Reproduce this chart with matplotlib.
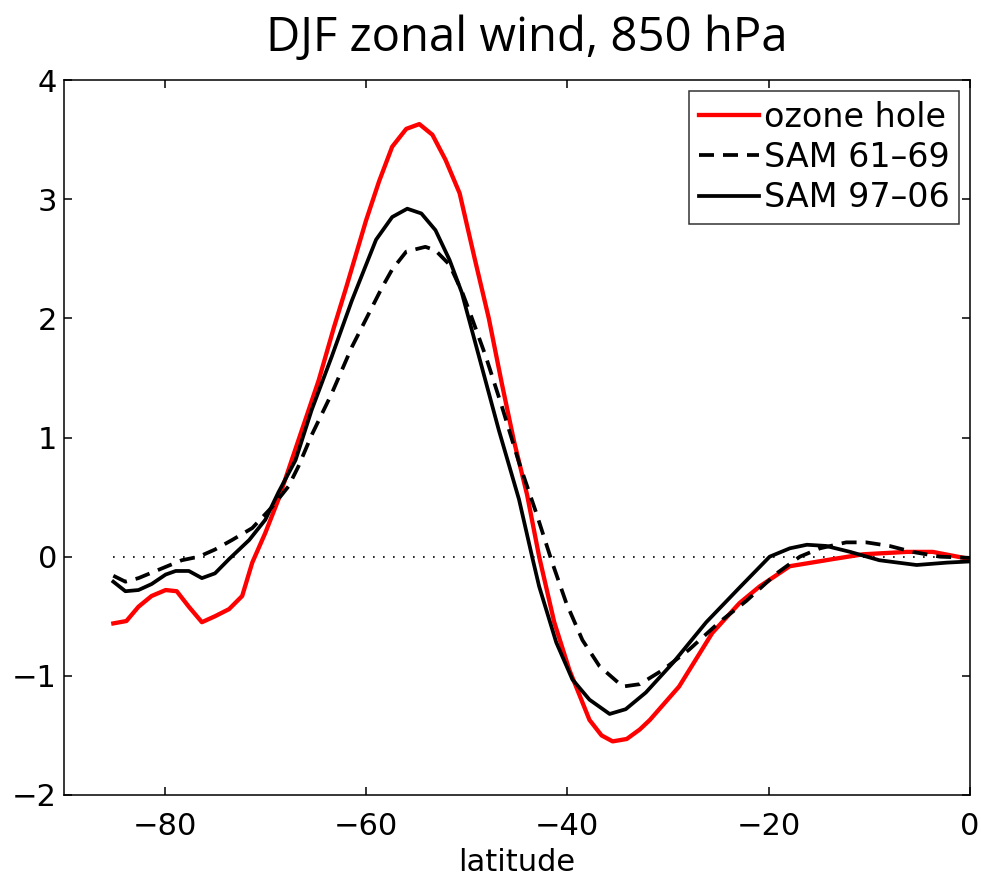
import matplotlib
matplotlib.use("Agg")
import matplotlib.pyplot as plt

lat_ozone = [-85.1, -83.8, -82.6, -81.3, -79.9, -78.8, -77.6, -76.3, -75.0, -73.6,
             -72.3, -71.3, -70.0, -68.7, -66.7, -64.7, -63.2, -62.0, -60.0, -58.7,
             -57.4, -56.0, -54.7, -53.4, -52.1, -50.7, -49.2, -47.8, -46.5, -45.3,
             -44.0, -42.8, -41.3, -39.8, -37.8, -36.6, -35.5, -34.1, -32.8, -31.8,
             -28.9, -25.6, -22.9, -20.9, -17.9, -13.6, -10.6, -6.3, -3.7, 0.0]
u_ozone = [-0.56, -0.54, -0.42, -0.33, -0.28, -0.29, -0.42, -0.55, -0.50, -0.44,
           -0.33, -0.05, 0.20, 0.48, 0.98, 1.48, 1.92, 2.25, 2.82, 3.15,
           3.44, 3.59, 3.63, 3.54, 3.33, 3.05, 2.50, 2.00, 1.45, 0.97,
           0.52, 0.00, -0.55, -0.95, -1.37, -1.50, -1.55, -1.53, -1.45, -1.37,
           -1.09, -0.64, -0.39, -0.25, -0.08, -0.02, 0.02, 0.04, 0.04, -0.02]

lat_sam6169 = [-85.1, -83.9, -82.6, -80.6, -78.3, -76.6, -75.0, -73.3, -71.3, -69.3,
               -67.7, -66.7, -65.4, -63.4, -61.4, -59.6, -58.4, -57.4, -56.0, -54.1,
               -53.1, -51.7, -50.4, -49.6, -48.1, -46.5, -44.8, -43.1, -41.5, -40.1,
               -38.5, -36.8, -34.5, -32.8, -30.5, -27.9, -24.9, -22.2, -19.2, -16.9,
               -14.9, -12.3, -10.3, -8.0, -5.7, -3.0, 0.0]
u_sam6169 = [-0.16, -0.21, -0.18, -0.11, -0.03, 0.00, 0.06, 0.14, 0.24, 0.42,
             0.59, 0.76, 1.02, 1.37, 1.76, 2.06, 2.26, 2.41, 2.56, 2.60,
             2.57, 2.45, 2.21, 2.03, 1.68, 1.26, 0.79, 0.37, -0.05, -0.39,
             -0.70, -0.92, -1.09, -1.07, -0.95, -0.78, -0.55, -0.37, -0.14, 0.00,
             0.07, 0.12, 0.12, 0.09, 0.04, 0.00, -0.01]

lat_sam9706 = [-85.1, -83.9, -82.6, -81.3, -79.9, -78.9, -77.6, -76.3, -75.0, -73.6,
               -71.6, -70.0, -68.7, -67.0, -65.4, -63.4, -61.4, -59.0, -57.4, -55.9,
               -54.5, -53.1, -51.7, -50.5, -49.0, -46.8, -44.8, -43.5, -42.8, -41.1,
               -39.5, -37.8, -35.8, -34.2, -32.2, -29.5, -26.2, -22.9, -19.9, -17.9,
               -16.2, -14.3, -11.9, -9.0, -5.3, -2.3, 0.0]
u_sam9706 = [-0.21, -0.29, -0.28, -0.23, -0.15, -0.12, -0.12, -0.18, -0.14, -0.02,
             0.14, 0.31, 0.54, 0.81, 1.23, 1.68, 2.15, 2.66, 2.85, 2.92,
             2.88, 2.74, 2.49, 2.22, 1.75, 1.06, 0.48, 0.00, -0.25, -0.72,
             -1.03, -1.20, -1.32, -1.28, -1.14, -0.89, -0.55, -0.26, 0.00, 0.07,
             0.10, 0.09, 0.04, -0.03, -0.07, -0.05, -0.04]

labels = ["ozone hole", "SAM 61\u201369", "SAM 97\u201306"]
title = "DJF zonal wind, 850 hPa"
xlabel = "latitude"
xticks = [-80, -60, -40, -20, 0]
yticks = [-2, -1, 0, 1, 2, 3, 4]

plt.rcParams['font.family'] = ['DejaVu Sans']
plt.rcParams['axes.unicode_minus'] = True

fs = 22

fig = plt.figure(figsize=(9.81, 8.75), dpi=100)
ax = fig.add_axes([64/981, 1-795/875, (970-64)/981, (795-80)/875])

ax.plot([lat_ozone[0], 0], [0, 0], color='black', lw=1.2, linestyle=(0, (1, 5)))
ax.plot(lat_ozone, u_ozone, color=(1, 0, 0), lw=3.1, label=labels[0])
ax.plot(lat_sam6169, u_sam6169, color='black', lw=2.7, linestyle=(0, (4, 2.4)), label=labels[1])
ax.plot(lat_sam9706, u_sam9706, color='black', lw=2.7, label=labels[2])

ax.set_xlim(-90, 0)
ax.set_ylim(-2, 4)
ax.set_xticks(xticks)
ax.set_yticks(yticks)
ax.set_xticklabels([("\u2212%d" % -t) if t < 0 else "%d" % t for t in xticks])
ax.set_yticklabels([("\u2212%d" % -t) if t < 0 else "%d" % t for t in yticks])
ax.tick_params(direction='in', top=True, right=True, length=6, width=1.1,
               labelsize=fs)
ax.tick_params(axis='y', pad=5)
ax.tick_params(axis='x', pad=12)
for s in ax.spines.values():
    s.set_linewidth(1.1)

ax.set_xlabel(xlabel, fontsize=fs, labelpad=5)
fig.text(527/981, 1-38/875, title, fontsize=34, family=['Open Sans', 'DejaVu Sans'],
         ha='center', va='center')

leg = ax.legend(loc='upper right', fontsize=24, frameon=True, fancybox=False,
                edgecolor='black', handlelength=1.8, handletextpad=0.15,
                borderpad=0.3, labelspacing=0.22, borderaxespad=0.32)
leg.get_frame().set_linewidth(1.1)

fig.savefig("out.png", dpi=100)
